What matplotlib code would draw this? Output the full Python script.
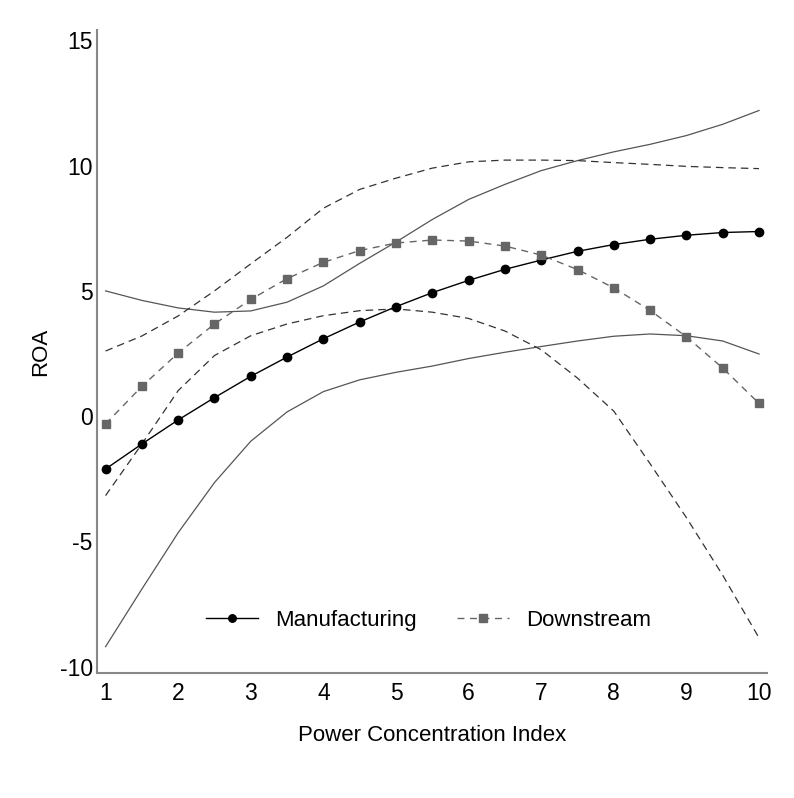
import matplotlib
matplotlib.use("Agg")
import matplotlib.pyplot as plt

plt.rcParams['font.family'] = ['Liberation Sans', 'DejaVu Sans']
plt.rcParams['axes.unicode_minus'] = False

x = [1, 1.5, 2, 2.5, 3, 3.5, 4, 4.5, 5, 5.5, 6, 6.5, 7, 7.5, 8, 8.5, 9, 9.5, 10]

manuf = [-2.11, -1.11, -0.15, 0.74, 1.59, 2.36, 3.09, 3.76, 4.37, 4.93, 5.42, 5.86,
         6.23, 6.58, 6.85, 7.06, 7.22, 7.33, 7.37]
manuf_hi = [5.0, 4.62, 4.32, 4.15, 4.2, 4.55, 5.2, 6.1, 6.95, 7.85, 8.65, 9.25,
            9.8, 10.2, 10.55, 10.85, 11.2, 11.65, 12.2]
manuf_lo = [-9.2, -6.9, -4.65, -2.65, -1.0, 0.17, 0.98, 1.45, 1.75, 2.0, 2.3, 2.55,
            2.78, 3.0, 3.19, 3.28, 3.21, 3.0, 2.48]

down = [-0.31, 1.19, 2.52, 3.68, 4.66, 5.49, 6.14, 6.61, 6.91, 7.03, 6.99, 6.79,
        6.43, 5.85, 5.12, 4.22, 3.17, 1.92, 0.51]
down_hi = [2.6, 3.2, 4.0, 5.0, 6.08, 7.14, 8.3, 9.05, 9.5, 9.9, 10.15, 10.22,
           10.22, 10.2, 10.12, 10.05, 9.97, 9.92, 9.88]
down_lo = [-3.17, -1.11, 1.02, 2.42, 3.21, 3.68, 4.01, 4.21, 4.28, 4.15, 3.9, 3.4,
           2.65, 1.52, 0.2, -1.9, -4.05, -6.35, -8.85]

xticks = [1, 2, 3, 4, 5, 6, 7, 8, 9, 10]
yticks = [-10, -5, 0, 5, 10, 15]

fig = plt.figure(figsize=(7.94, 7.98), dpi=100)
ax = fig.add_axes([0.122, 0.157, 0.844, 0.805])

ci_col = '#555555'
ax.plot(x, manuf_hi, color=ci_col, lw=0.9, ls='-')
ax.plot(x, manuf_lo, color=ci_col, lw=0.9, ls='-')
ax.plot(x, down_hi, color='#333333', lw=0.9, ls=(0, (6, 4)))
ax.plot(x, down_lo, color='#333333', lw=0.9, ls=(0, (6, 4)))

ax.plot(x, manuf, color='black', lw=1.0, ls='-', marker='o', markersize=6,
        label='Manufacturing')
ax.plot(x, down, color='#666666', lw=1.0, ls=(0, (5, 4)), marker='s', markersize=6,
        markerfacecolor='#666666', markeredgecolor='#666666', label='Downstream')

ax.set_xlim(0.88, 10.11)
ax.set_ylim(-10.24, 15.4)
ax.set_xticks(xticks)
ax.set_yticks(yticks)
ax.tick_params(axis='both', length=0, labelsize=16.5)
ax.tick_params(axis='x', pad=7)
ax.tick_params(axis='y', pad=3)

for s in ['top', 'right']:
    ax.spines[s].set_visible(False)
for s in ['left', 'bottom']:
    ax.spines[s].set_color('#888888')
    ax.spines[s].set_linewidth(1.5)

ax.set_xlabel('Power Concentration Index', fontsize=16, labelpad=14)
ax.set_ylabel('ROA', fontsize=16, labelpad=6)

leg = ax.legend(loc='center', bbox_to_anchor=(0.495, 0.082), ncol=2, frameon=False,
                fontsize=16, handlelength=2.3, columnspacing=1.85, handletextpad=0.77,
                markerscale=0.9)

fig.savefig('out.png', dpi=100, facecolor='white')
